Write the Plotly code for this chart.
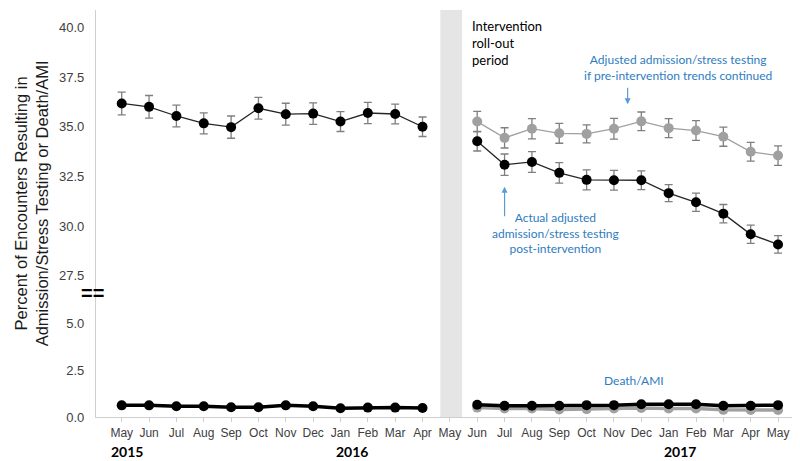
import plotly.graph_objects as go

# ---- data ----
months = ["May", "Jun", "Jul", "Aug", "Sep", "Oct", "Nov", "Dec", "Jan", "Feb", "Mar", "Apr",
          "May", "Jun", "Jul", "Aug", "Sep", "Oct", "Nov", "Dec", "Jan", "Feb", "Mar", "Apr", "May"]
year_labels = ["2015", "2016", "2017"]
year_pos = [0.2, 8.42, 20.4]

pre_idx = list(range(0, 12))
post_idx = list(range(13, 25))

pre_adm = [36.17, 36.0, 35.54, 35.17, 34.98, 35.93, 35.63, 35.66, 35.26, 35.69, 35.64, 35.0]
pre_adm_err = [0.57, 0.57, 0.55, 0.53, 0.56, 0.55, 0.55, 0.54, 0.5, 0.53, 0.5, 0.49]

post_adm_actual = [34.27, 33.09, 33.23, 32.68, 32.33, 32.31, 32.31, 31.66, 31.2, 30.63, 29.59, 29.08]
post_adm_actual_err = [0.49, 0.54, 0.52, 0.52, 0.5, 0.5, 0.47, 0.43, 0.46, 0.46, 0.46, 0.44]

post_adm_counterfactual = [35.26, 34.44, 34.9, 34.67, 34.64, 34.9, 35.27, 34.93, 34.81, 34.5, 33.74, 33.55]
post_adm_counterfactual_err = [0.51, 0.51, 0.51, 0.5, 0.45, 0.52, 0.47, 0.48, 0.5, 0.48, 0.47, 0.49]

pre_death = [0.62, 0.62, 0.57, 0.57, 0.52, 0.52, 0.62, 0.57, 0.47, 0.5, 0.5, 0.48]
post_death_actual = [0.65, 0.6, 0.6, 0.6, 0.63, 0.63, 0.68, 0.68, 0.68, 0.6, 0.6, 0.63]
post_death_counterfactual = [0.5, 0.45, 0.45, 0.4, 0.42, 0.45, 0.48, 0.45, 0.45, 0.38, 0.37, 0.37]

top_ticks = [27.5, 30.0, 32.5, 35.0, 37.5, 40.0]
bottom_ticks = [0.0, 2.5, 5.0]

# ---- style ----
BLACK = "#000000"
LINE_DARK = "#262626"
GREY = "#a0a0a0"
ERR = "#7f7f7f"
BLUE = "#2e7cc0"
ARROW = "#5b9bd5"
AXIS = "#cfcfcf"
TICKFONT = dict(family="Liberation Sans, Arial, sans-serif", size=13, color="#404040")

fig = go.Figure()

# grey intervention roll-out band
fig.add_shape(type="rect", xref="x", yref="paper", x0=11.65, x1=12.45, y0=0, y1=1,
              fillcolor="#e5e5e5", line_width=0, layer="below")

def err(arr):
    return dict(type="data", array=arr, visible=True, color=ERR, thickness=1.3, width=4)

# top panel: admission / stress testing
fig.add_trace(go.Scatter(x=post_idx, y=post_adm_counterfactual, yaxis="y2", mode="lines+markers",
                         line=dict(color=GREY, width=1.3), marker=dict(color=GREY, size=10),
                         error_y=err(post_adm_counterfactual_err), showlegend=False))
fig.add_trace(go.Scatter(x=pre_idx, y=pre_adm, yaxis="y2", mode="lines+markers",
                         line=dict(color=LINE_DARK, width=1.3), marker=dict(color=BLACK, size=10),
                         error_y=err(pre_adm_err), showlegend=False))
fig.add_trace(go.Scatter(x=post_idx, y=post_adm_actual, yaxis="y2", mode="lines+markers",
                         line=dict(color=LINE_DARK, width=1.3), marker=dict(color=BLACK, size=10),
                         error_y=err(post_adm_actual_err), showlegend=False))

# bottom panel: death / AMI
fig.add_trace(go.Scatter(x=post_idx, y=post_death_counterfactual, yaxis="y", mode="lines+markers",
                         line=dict(color=GREY, width=3.5), marker=dict(color=GREY, size=10),
                         showlegend=False))
fig.add_trace(go.Scatter(x=pre_idx, y=pre_death, yaxis="y", mode="lines+markers",
                         line=dict(color=BLACK, width=3.5), marker=dict(color=BLACK, size=10),
                         showlegend=False))
fig.add_trace(go.Scatter(x=post_idx, y=post_death_actual, yaxis="y", mode="lines+markers",
                         line=dict(color=BLACK, width=3.5), marker=dict(color=BLACK, size=10),
                         showlegend=False))

split = 0.2998

# page body has an 8px margin: figure is sized/offset to compensate
fig.update_layout(
    width=792, height=453,
    margin=dict(l=88, r=5, t=2, b=44),
    paper_bgcolor="white", plot_bgcolor="white",
    xaxis=dict(range=[-0.94, 24.62], tickmode="array", tickvals=list(range(len(months))),
               ticktext=months, showgrid=False, zeroline=False, showline=True,
               linecolor=AXIS, linewidth=1.2, ticks="outside", ticklen=4, tickcolor=AXIS,
               tickfont=dict(family="Liberation Sans, Arial, sans-serif", size=12, color="#404040"),
               anchor="y"),
    yaxis=dict(domain=[0, split], range=[0, 6.49], tickmode="array", tickvals=bottom_ticks,
               ticktext=[f"{v:.1f}" for v in bottom_ticks], showgrid=False, zeroline=False,
               showline=True, linecolor=AXIS, linewidth=1.2, ticks="", tickfont=TICKFONT,
               ticklabelstandoff=8),
    yaxis2=dict(domain=[split, 1], range=[26.54, 40.87], tickmode="array", tickvals=top_ticks,
                ticktext=[f"{v:.1f}" for v in top_ticks], showgrid=False, zeroline=False,
                showline=True, linecolor=AXIS, linewidth=1.2, ticks="", tickfont=TICKFONT,
                ticklabelstandoff=8, anchor="x"),
)

annots = []
# axis title (spans both panels)
annots.append(dict(text="Percent of Encounters Resulting in<br>Admission/Stress Testing or Death/AMI",
                   xref="paper", yref="paper", x=-0.093, y=0.525, xanchor="center", yanchor="middle",
                   textangle=-90, showarrow=False,
                   font=dict(family="Liberation Sans, Arial, sans-serif", size=16.5, color="#1a1a1a")))
# axis break marker
annots.append(dict(text="<b>==</b>", xref="paper", yref="paper", x=-0.005, y=split + 0.005,
                   xanchor="center", yanchor="middle", showarrow=False,
                   font=dict(family="Liberation Sans, Arial, sans-serif", size=20, color=BLACK)))
# year labels
for lab, pos in zip(year_labels, year_pos):
    annots.append(dict(text=f"<b>{lab}</b>", xref="x", yref="paper", x=pos, y=-0.085,
                       xanchor="center", yanchor="middle", showarrow=False,
                       font=dict(family="Lato, sans-serif", size=14, color=BLACK)))
# intervention label
annots.append(dict(text="Intervention<br>roll-out<br>period", xref="x", yref="paper",
                   x=12.75, y=0.985, xanchor="left", yanchor="top", align="left", showarrow=False,
                   font=dict(family="Lato, sans-serif", size=13, color=BLACK)))
# blue callouts
annots.append(dict(text="Adjusted admission/stress testing<br>if pre-intervention trends continued",
                   xref="x", yref="y2", x=20.35, y=38.0, xanchor="center", yanchor="middle",
                   showarrow=False, font=dict(family="Lato, sans-serif", size=12, color=BLUE)))
annots.append(dict(text="", xref="x", yref="y2", x=18.5, y=36.13, ax=18.5, ay=37.03,
                   axref="x", ayref="y2", showarrow=True, arrowhead=2, arrowsize=1,
                   arrowwidth=1.2, arrowcolor=ARROW))
annots.append(dict(text="Actual adjusted<br>admission/stress testing<br>post-intervention",
                   xref="x", yref="y2", x=15.85, y=29.64, xanchor="center", yanchor="middle",
                   showarrow=False, font=dict(family="Lato, sans-serif", size=12, color=BLUE)))
annots.append(dict(text="", xref="x", yref="y2", x=14.0, y=31.98, ax=14.0, ay=30.42,
                   axref="x", ayref="y2", showarrow=True, arrowhead=2, arrowsize=1,
                   arrowwidth=1.2, arrowcolor=ARROW))
annots.append(dict(text="Death/AMI", xref="x", yref="y", x=18.74, y=1.95, xanchor="center",
                   yanchor="middle", showarrow=False,
                   font=dict(family="Lato, sans-serif", size=12, color=BLUE)))

fig.update_layout(annotations=annots)

fig.write_html("out.html")
